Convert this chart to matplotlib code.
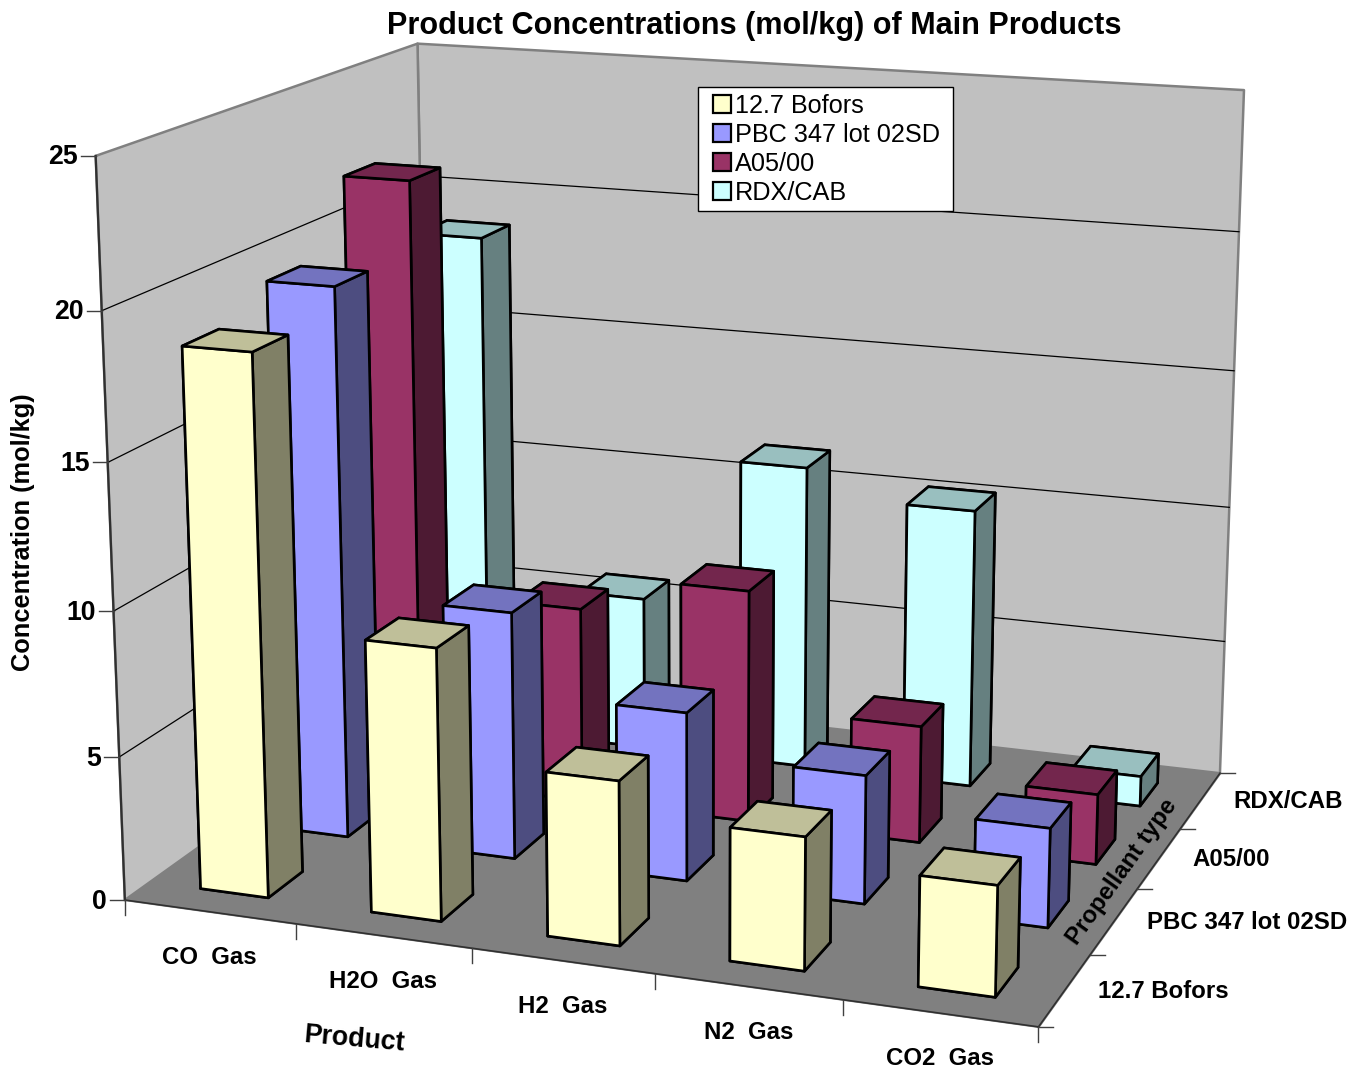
import numpy as np
import matplotlib
matplotlib.use("Agg")
import matplotlib.pyplot as plt
from matplotlib.legend_handler import HandlerPatch
from matplotlib.lines import Line2D
from matplotlib.patches import Patch, Rectangle
from mpl_toolkits.mplot3d.art3d import Poly3DCollection

plt.rcParams['font.family'] = ['Liberation Sans', 'DejaVu Sans']

# Chart data
products = ['CO  Gas', 'H2O  Gas', 'H2  Gas', 'N2  Gas', 'CO2  Gas']
propellants = ['12.7 Bofors', 'PBC 347 lot 02SD', 'A05/00', 'RDX/CAB']
bofors = [18.6, 9.35, 5.6, 4.5, 3.7]
pbc = [19.48, 8.75, 5.93, 4.48, 3.43]
a05 = [21.97, 7.1, 8.4, 4.2, 2.5]
rdx = [18.75, 5.71, 11.25, 10.24, 1.1]
z_ticks = [0, 5, 10, 15, 20, 25]
z_top = 25

series = [bofors, pbc, a05, rdx]
front_cols = ['#FFFFCC', '#9999FF', '#993366', '#CCFFFF']
top_cols = ['#BFBF99', '#7373BF', '#73264D', '#99BFBF']
side_cols = ['#808066', '#4D4D80', '#4D1A33', '#668080']

W, H = 1365, 1070
BAR_W, BAR_D = 0.40, 0.42

fig = plt.figure(figsize=(W / 100, H / 100), dpi=100, facecolor='white')
side = W / H
ax = fig.add_axes([0, (1 - side) / 2, 1, side], projection='3d', computed_zorder=False)
ax.set_axis_off()
ax.patch.set_alpha(0)

# Camera: a projective map from (product, propellant, value) to canvas pixels
ref_3d = [(0, 0, 0), (1, 0, 0), (2, 0, 0), (3, 0, 0), (5, 0, 0),
          (5, 1, 0), (5, 2, 0), (5, 3, 0), (5, 4, 0),
          (0, 0, 25), (0, 0, 20), (0, 0, 5), (0, 4, 25), (5, 4, 25),
          (5, 4, 5), (5, 4, 20)]
ref_px = [(125, 900), (296, 924), (472, 948), (655, 974), (1037, 1027),
          (1091, 955), (1137, 889), (1180, 829), (1220, 772),
          (96, 155), (102, 311), (119, 757), (417, 44), (1244, 90),
          (1225, 642), (1239, 232)]
rows = []
for (X, Y, Z), (u, v) in zip(ref_3d, ref_px):
    rows.append([X, Y, Z, 1, 0, 0, 0, 0, -u * X, -u * Y, -u * Z, -u])
    rows.append([0, 0, 0, 0, X, Y, Z, 1, -v * X, -v * Y, -v * Z, -v])
cam = np.linalg.svd(np.array(rows, float))[2][-1].reshape(3, 4)
cam /= cam[2] @ [2.5, 2, 10, 1]


def to_px(x, y, z):
    h = cam @ [x, y, z, 1]
    return h[0] / h[2], h[1] / h[2]


# Express the camera in the axes' 2D view coordinates
vx0, vx1 = ax.viewLim.intervalx
vy0, vy1 = ax.viewLim.intervaly
top_px = -(W - H) / 2
px_to_view = np.array([[(vx1 - vx0) / W, 0, vx0],
                       [0, -(vy1 - vy0) / W, vy1 + top_px * (vy1 - vy0) / W],
                       [0, 0, 1]])
view_cam = px_to_view @ cam
M = np.vstack([view_cam[0], view_cam[1], [0, 0, 0, -1], view_cam[2]])
ax.get_proj = lambda: M

n_x, n_y = len(products), len(propellants)

# Walls and floor
left_wall = [(0, 0, 0), (0, n_y, 0), (0, n_y, z_top), (0, 0, z_top)]
back_wall = [(0, n_y, 0), (n_x, n_y, 0), (n_x, n_y, z_top), (0, n_y, z_top)]
floor = [(0, 0, 0), (n_x, 0, 0), (n_x, n_y, 0), (0, n_y, 0)]
ax.add_collection3d(Poly3DCollection([left_wall, back_wall], facecolors='#C0C0C0',
                                     edgecolors='#808080', linewidths=1.8, zorder=1))
ax.add_collection3d(Poly3DCollection([floor], facecolors='#808080',
                                     edgecolors='#808080', linewidths=1, zorder=2))

# Gridlines on the two walls
for t in z_ticks[1:-1]:
    ax.plot([0, 0, n_x], [0, n_y, n_y], [t, t, t], color='black', lw=0.9, zorder=3)
ax.plot([0, 0], [0, 0], [0, z_top], color='#303030', lw=1.6, zorder=3)
ax.plot([0, n_x], [0, 0], [0, 0], color='#303030', lw=1.2, zorder=3)
ax.plot([n_x, n_x], [0, n_y], [0, 0], color='#303030', lw=1.2, zorder=3)

# Bars, painted from the back row forward and left to right
order = 10
for j in range(n_y - 1, -1, -1):
    for i in range(n_x):
        faces = [front_cols[j], top_cols[j], front_cols[j],
                 front_cols[j], side_cols[j], side_cols[j]]
        ax.bar3d(i + 0.5 - BAR_W / 2, j + 0.5 - BAR_D / 2, 0, BAR_W, BAR_D, series[j][i],
                 color=faces, edgecolor='black', linewidth=1.9, shade=False, zorder=order)
        order += 1


def fx(px):
    return px / W


def fy(py):
    return 1 - py / H


def tick(x0, y0, dx, dy):
    fig.add_artist(Line2D([fx(x0), fx(x0 + dx)], [fy(y0), fy(y0 + dy)],
                          color='#404040', lw=1.0))


# Tick marks and tick labels, anchored to the projected axes
for t in z_ticks:
    u, v = to_px(0, 0, t)
    tick(u, v, -15, 0)
    fig.text(fx(u - 18), fy(v + 1.5), str(t), ha='right', va='center',
             fontsize=19.2, fontweight='bold')
for i in range(n_x + 1):
    u, v = to_px(i, 0, 0)
    tick(u, v, 0, 15)
for i, name in enumerate(products):
    u, v = to_px(i + 0.5, 0, 0)
    fig.text(fx(u), fy(v + 45.5), name, ha='center', va='center',
             fontsize=17.3, fontweight='bold')
for j in range(n_y + 1):
    u, v = to_px(n_x, j, 0)
    tick(u, v, 15, 0)
for j, name in enumerate(propellants):
    u, v = to_px(n_x, j + 0.5, 0)
    fig.text(fx(u + 33), fy(v + 1), name, ha='left', va='center',
             fontsize=17.3, fontweight='bold')

# Titles
fig.text(fx(754), fy(26), 'Product Concentrations (mol/kg) of Main Products',
         ha='center', va='center', fontsize=22.1, fontweight='bold')
fig.text(fx(23), fy(532), 'Concentration (mol/kg)', rotation=90,
         ha='center', va='center', fontsize=18.3, fontweight='bold')
fig.text(fx(354.5), fy(1039), 'Product', rotation=-5,
         ha='center', va='center', fontsize=19.3, fontweight='bold')
fig.text(fx(1122), fy(872), 'Propellant type', rotation=54.5,
         ha='center', va='center', fontsize=17.3, fontweight='bold')


# Legend keys sit at the right of their slot, next to the label
def legend_key(legend, orig_handle, xdescent, ydescent, width, height, fontsize):
    size = 13
    return Rectangle((width - xdescent - size, (height - size) / 2 - ydescent), size, size)


handles = [Patch(facecolor=c, edgecolor='black', linewidth=1.6) for c in front_cols]
leg = fig.legend(handles, propellants, loc='upper left', mode='expand',
                 bbox_to_anchor=(fx(698), fy(208), 255 / W, 121 / H),
                 fontsize=18.2, frameon=True, fancybox=False, framealpha=1,
                 edgecolor='black', handlelength=1.05, handleheight=0.7,
                 handletextpad=0.16, labelspacing=0.2, borderpad=0.26, borderaxespad=0,
                 handler_map={Patch: HandlerPatch(patch_func=legend_key)})
leg.get_frame().set_linewidth(1.0)
leg.set_zorder(100)

fig.savefig('out.png', dpi=100)
